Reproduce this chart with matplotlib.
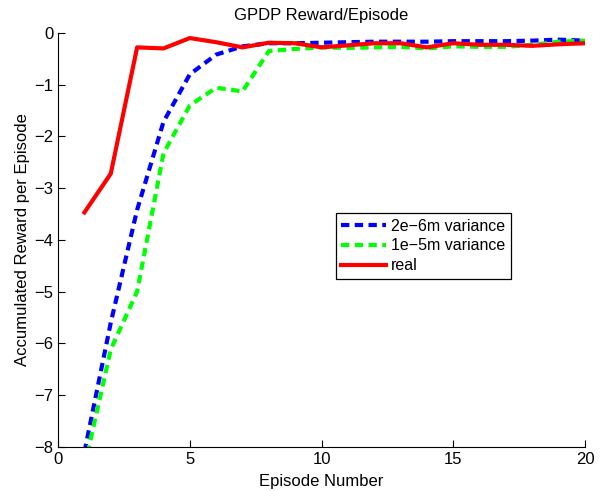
import numpy as np
import matplotlib
matplotlib.use("Agg")
from matplotlib import pyplot as plt

# episode numbers
episodes = list(range(1, 21))

# accumulated reward per episode
reward_2e6 = [-8.1, -5.6, -3.42, -1.72, -0.8, -0.42, -0.26, -0.2, -0.2, -0.19,
              -0.18, -0.17, -0.17, -0.17, -0.16, -0.16, -0.16, -0.15, -0.13, -0.15]
reward_1e5 = [-8.39, -6.12, -5.0, -2.33, -1.4, -1.06, -1.13, -0.35, -0.31, -0.28,
              -0.29, -0.28, -0.27, -0.3, -0.26, -0.27, -0.27, -0.23, -0.17, -0.15]
reward_real = [-3.47, -2.72, -0.28, -0.3, -0.1, -0.18, -0.28, -0.19, -0.2, -0.28,
               -0.24, -0.2, -0.2, -0.28, -0.2, -0.23, -0.23, -0.25, -0.22, -0.2]

series_labels = ["2e\u22126m variance", "1e\u22125m variance", "real"]

plt.rcParams["font.family"] = ["Liberation Sans", "DejaVu Sans"]
plt.rcParams["font.size"] = 12

fig = plt.figure(figsize=(6.05, 4.91), dpi=100)
ax = fig.add_axes([0.096, 0.09, 0.871, 0.843])

ax.plot(episodes, reward_2e6, color=(0, 0, 1), lw=3, dashes=(2.0, 1.3), label=series_labels[0])
ax.plot(episodes, reward_1e5, color=(0, 1, 0), lw=3, dashes=(2.0, 1.3), label=series_labels[1])
ax.plot(episodes, reward_real, color=(1, 0, 0), lw=3, label=series_labels[2])

ax.set_xlim(0, 20)
ax.set_ylim(-8, 0)
ax.set_xticks([0, 5, 10, 15, 20])
ax.set_yticks(np.arange(-8, 1, 1))
ax.tick_params(direction="in", length=5, width=0.8, labelsize=12, colors="black")
ax.spines["top"].set_visible(False)
ax.spines["right"].set_visible(False)

ax.set_title("GPDP Reward/Episode", fontsize=12, pad=9)
ax.set_xlabel("Episode Number", fontsize=12, labelpad=5)
ax.set_ylabel("Accumulated Reward per Episode", fontsize=12, labelpad=3)

leg = ax.legend(loc="upper left", bbox_to_anchor=(0.527, 0.565), fancybox=False,
                framealpha=1, edgecolor="black", fontsize=11.5, handlelength=2.8,
                borderpad=0.35, labelspacing=0.3, handletextpad=0.3, borderaxespad=0)
leg.get_frame().set_linewidth(0.9)

fig.savefig("out.png", dpi=100)
